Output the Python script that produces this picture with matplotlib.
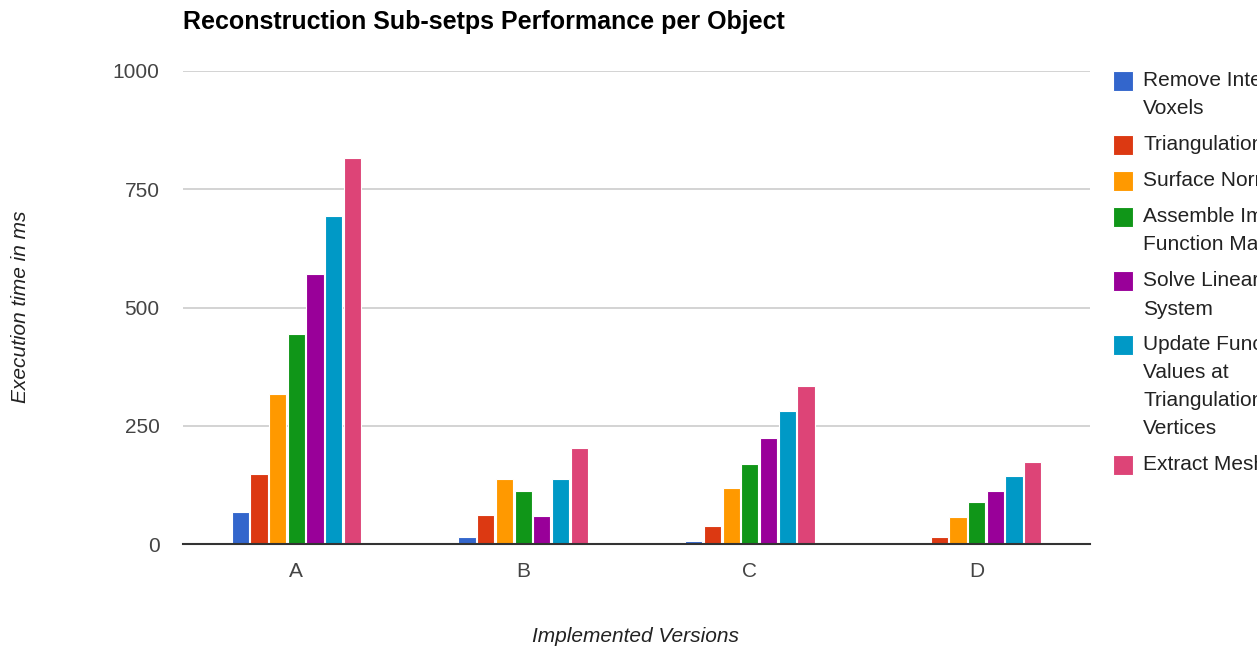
import numpy as np
import matplotlib.pyplot as plt
from matplotlib.patches import Rectangle

plt.rcParams['font.family'] = ['Liberation Sans', 'DejaVu Sans']

versions = ['A', 'B', 'C', 'D']
steps = [
    'Remove Interior Voxels',
    'Triangulation',
    'Surface Normals',
    'Assemble Implicit Function Matrix',
    'Solve Linear System',
    'Update Function Values at Triangulation Vertices',
    'Extract Mesh',
]
# legend labels wrapped the way the chart shows them
legend_lines = [
    ['Remove Interior', 'Voxels'],
    ['Triangulation'],
    ['Surface Normals'],
    ['Assemble Implicit', 'Function Matrix'],
    ['Solve Linear', 'System'],
    ['Update Function', 'Values at', 'Triangulation', 'Vertices'],
    ['Extract Mesh'],
]

# execution time in ms, one list per sub-step (versions A..D)
remove_interior = [67, 14, 7, 3]
triangulation = [147, 61, 38, 14]
surface_normals = [318, 137, 118, 58]
assemble_matrix = [444, 111, 170, 88]
solve_system = [570, 60, 225, 113]
update_values = [694, 137, 282, 143]
extract_mesh = [817, 202, 335, 173]

series = [remove_interior, triangulation, surface_normals, assemble_matrix,
          solve_system, update_values, extract_mesh]
colors = ['#3366cc', '#dc3912', '#ff9900', '#109618', '#990099', '#0099c6', '#dd4477']

W, H = 1257, 651
fig = plt.figure(figsize=(W / 100, H / 100), dpi=100)
ax = fig.add_axes([183 / W, 1 - 544 / H, (1090 - 183) / W, (544 - 71) / H])

x = np.arange(len(versions))
pitch = 0.0825
width = 0.076
for i, (vals, c) in enumerate(zip(series, colors)):
    offs = (i - (len(series) - 1) / 2) * pitch
    ax.bar(x + offs, vals, width=width, color=c, edgecolor='white',
           linewidth=0.8, zorder=3, label=steps[i])

ax.set_xlim(-0.5, 3.5)
ax.set_ylim(0, 1000)
ax.set_yticks([0, 250, 500, 750, 1000])
ax.set_xticks(x)
ax.set_xticklabels(versions)
ax.yaxis.grid(True, color='#cccccc', linewidth=1.2, zorder=0)
ax.set_axisbelow(True)
for s in ['top', 'right', 'left']:
    ax.spines[s].set_visible(False)
ax.spines['bottom'].set_color('#333333')
ax.spines['bottom'].set_linewidth(1.5)
ax.spines['bottom'].set_zorder(4)
ax.tick_params(axis='both', length=0, labelsize=15, colors='#444444')
ax.tick_params(axis='y', pad=17)
ax.tick_params(axis='x', pad=13)

fig.text(183 / W, 1 - 22 / H, 'Reconstruction Sub-setps Performance per Object',
         fontsize=18, fontweight='bold', color='#000000', va='center', ha='left')
fig.text(21 / W, 1 - 307 / H, 'Execution time in ms', rotation=90, fontsize=15,
         fontstyle='italic', color='#222222', va='center', ha='center')
fig.text(636 / W, 1 - 636 / H, 'Implemented Versions', fontsize=15,
         fontstyle='italic', color='#222222', va='center', ha='center')

# legend on the right, running off the figure edge
y = 81
for lines, c in zip(legend_lines, colors):
    fig.patches.append(Rectangle((1113 / W, 1 - (y + 10) / H), 20 / W, 20 / H,
                                 transform=fig.transFigure, facecolor=c,
                                 edgecolor='white', linewidth=0.8))
    for j, line in enumerate(lines):
        fig.text(1143 / W, 1 - y / H, line, fontsize=15, color='#222222',
                 va='center', ha='left')
        if j < len(lines) - 1:
            y += 28
    y += 36

fig.savefig('out.png', dpi=100)
